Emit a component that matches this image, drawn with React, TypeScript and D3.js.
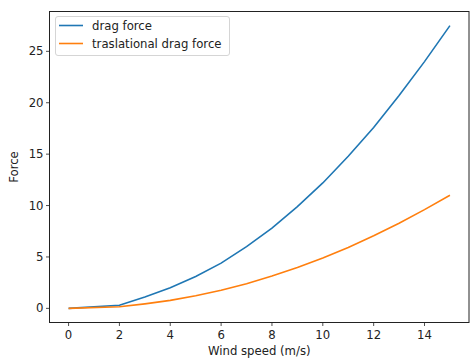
import { useEffect, useRef } from "react";
import * as d3 from "d3";

const speeds = [0, 2, 3, 4, 5, 6, 7, 8, 9, 10, 11, 12, 13, 14, 15];
const dragForce = [0, 0.3, 1.1, 2.0, 3.1, 4.4, 6.0, 7.8, 9.9, 12.2, 14.8, 17.6, 20.7, 24.0, 27.5];
const transForce = [0, 0.15, 0.44, 0.78, 1.22, 1.76, 2.4, 3.14, 3.97, 4.9, 5.93, 7.06, 8.28, 9.6, 11.0];
const seriesNames = ["drag force", "traslational drag force"];
const colors = ["#1f77b4", "#ff7f0e"];
const xTicks = [0, 2, 4, 6, 8, 10, 12, 14];
const yTicks = [0, 5, 10, 15, 20, 25];

function App() {
    const svgRef = useRef<SVGSVGElement | null>(null);

    useEffect(() => {
        if (!svgRef.current) return;
        const width = 470;
        const height = 358;
        const left = 49.5, right = 469, top = 11.5, bottom = 322.5;
        const font = "DejaVu Sans, sans-serif";
        const fs = 11.7;

        const svg = d3.select(svgRef.current).attr("width", width).attr("height", height);
        svg.selectAll("*").remove();

        const x = d3.scaleLinear().domain([-0.75, 15.75]).range([left, right]);
        const y = d3.scaleLinear().domain([-1.375, 28.875]).range([bottom, top]);

        const line = d3
            .line<number>()
            .x((_, i) => x(speeds[i]))
            .y((d) => y(d));

        [dragForce, transForce].forEach((s, k) => {
            svg.append("path")
                .attr("d", line(s))
                .attr("fill", "none")
                .attr("stroke", colors[k])
                .attr("stroke-width", 1.6);
        });

        // frame
        svg.append("rect")
            .attr("x", left).attr("y", top)
            .attr("width", right - left).attr("height", bottom - top)
            .attr("fill", "none").attr("stroke", "#222").attr("stroke-width", 1);

        // x ticks
        const xg = svg.append("g");
        xTicks.forEach((t) => {
            xg.append("line").attr("x1", x(t)).attr("x2", x(t)).attr("y1", bottom).attr("y2", bottom + 3.5)
                .attr("stroke", "#222").attr("stroke-width", 0.8);
            xg.append("text").attr("x", x(t)).attr("y", bottom + 16.5).attr("text-anchor", "middle")
                .attr("font-family", font).attr("font-size", fs).attr("fill", "#222").text(t);
        });

        // y ticks
        const yg = svg.append("g");
        yTicks.forEach((t) => {
            yg.append("line").attr("x1", left).attr("x2", left - 3.5).attr("y1", y(t)).attr("y2", y(t))
                .attr("stroke", "#222").attr("stroke-width", 0.8);
            yg.append("text").attr("x", left - 6).attr("y", y(t)).attr("dy", "0.35em").attr("text-anchor", "end")
                .attr("font-family", font).attr("font-size", fs).attr("fill", "#222").text(t);
        });

        svg.append("text").attr("x", (left + right) / 2).attr("y", 355).attr("text-anchor", "middle")
            .attr("font-family", font).attr("font-size", fs).attr("fill", "#222").text("Wind speed (m/s)");
        svg.append("text").attr("transform", `translate(18,${(top + bottom) / 2}) rotate(-90)`)
            .attr("text-anchor", "middle")
            .attr("font-family", font).attr("font-size", fs).attr("fill", "#222").text("Force");

        // legend
        const lg = svg.append("g");
        lg.append("rect").attr("x", 55.5).attr("y", 16.5).attr("width", 174).attr("height", 39).attr("rx", 2.5)
            .attr("fill", "white").attr("fill-opacity", 0.8).attr("stroke", "#d5d5d5").attr("stroke-width", 1);
        seriesNames.forEach((n, i) => {
            const yy = 25.5 + i * 18;
            lg.append("line").attr("x1", 59).attr("x2", 83).attr("y1", yy).attr("y2", yy)
                .attr("stroke", colors[i]).attr("stroke-width", 1.6);
            lg.append("text").attr("x", 92).attr("y", yy).attr("dy", "0.35em")
                .attr("font-family", font).attr("font-size", fs).attr("fill", "#222").text(n);
        });
    }, []);

    return (
        <div style={{ position: "absolute", left: 0, top: 0 }}>
            <svg ref={svgRef}></svg>
        </div>
    );
}

export default App;
